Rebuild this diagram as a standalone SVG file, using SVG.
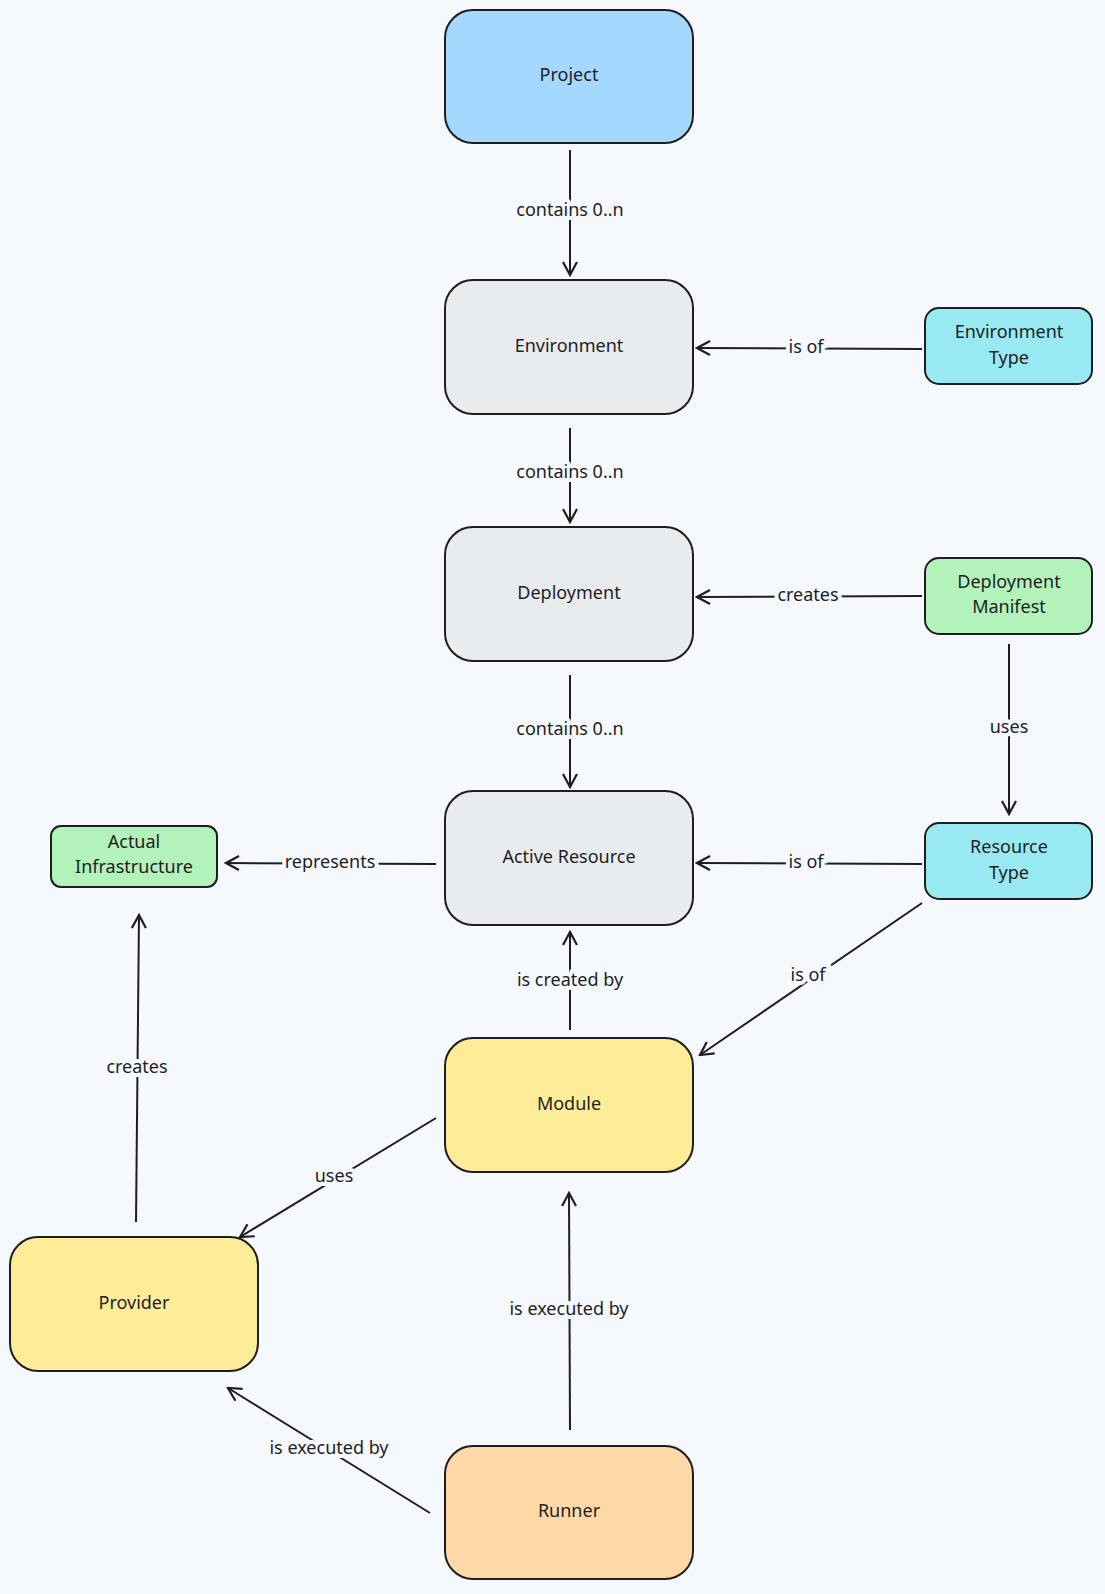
<svg xmlns="http://www.w3.org/2000/svg" width="1105" height="1594" viewBox="0 0 1105 1594">
<defs>
<marker id="a" markerWidth="16" markerHeight="16" refX="14" refY="8" orient="auto" markerUnits="userSpaceOnUse"><path d="M1,1 L14,8 L1,15" fill="none" stroke="#1e1e1e" stroke-width="2.2"/></marker>
</defs>
<style>
.n{stroke:#1e1e1e;stroke-width:2}
.t{font-family:"Comic Sans MS","Noto Sans",sans-serif;font-size:18px;fill:#1e1e1e;text-anchor:middle;dominant-baseline:middle}
.e line{stroke:#1e1e1e;stroke-width:2;marker-end:url(#a)}
.l{font-family:"Noto Sans",sans-serif;font-size:18px;fill:#1e1e1e;text-anchor:middle;dominant-baseline:middle;stroke:#f5f9fd;stroke-width:8;paint-order:stroke}
</style>
<rect width="1105" height="1594" fill="#f5f9fd"/>
<g class="e">
<line x1="570" y1="150" x2="570" y2="275"/>
<line x1="570" y1="428" x2="570" y2="522"/>
<line x1="570" y1="675" x2="570" y2="787"/>
<line x1="922" y1="349" x2="697" y2="348"/>
<line x1="922" y1="596" x2="697" y2="597"/>
<line x1="1009" y1="644" x2="1009" y2="814"/>
<line x1="922" y1="864" x2="697" y2="863"/>
<line x1="436" y1="864" x2="226" y2="863"/>
<line x1="570" y1="1030" x2="570" y2="932"/>
<line x1="922" y1="903" x2="700" y2="1055"/>
<line x1="436" y1="1118" x2="240" y2="1237"/>
<line x1="136" y1="1222" x2="139" y2="915"/>
<line x1="570" y1="1430" x2="569" y2="1193"/>
<line x1="430" y1="1513" x2="228" y2="1388"/>
<text class="l" x="570" y="211">contains 0..n</text>
<text class="l" x="570" y="473">contains 0..n</text>
<text class="l" x="570" y="730">contains 0..n</text>
<text class="l" x="806" y="348">is of</text>
<text class="l" x="808" y="596">creates</text>
<text class="l" x="1009" y="728">uses</text>
<text class="l" x="806" y="863">is of</text>
<text class="l" x="330" y="863">represents</text>
<text class="l" x="570" y="981">is created by</text>
<text class="l" x="808" y="976">is of</text>
<text class="l" x="334" y="1177">uses</text>
<text class="l" x="137" y="1068">creates</text>
<text class="l" x="569" y="1310">is executed by</text>
<text class="l" x="329" y="1449">is executed by</text>
</g>
<g id="project"><rect class="n" x="445" y="10" width="248" height="133" rx="28" fill="#a5d8ff"/><text class="t" x="569" y="76">Project</text></g>
<g id="environment"><rect class="n" x="445" y="280" width="248" height="134" rx="28" fill="#e9ecef"/><text class="t" x="569" y="347">Environment</text></g>
<g id="deployment"><rect class="n" x="445" y="527" width="248" height="134" rx="28" fill="#e9ecef"/><text class="t" x="569" y="594">Deployment</text></g>
<g id="active"><rect class="n" x="445" y="791" width="248" height="134" rx="28" fill="#e9ecef"/><text class="t" x="569" y="858">Active Resource</text></g>
<g id="module"><rect class="n" x="445" y="1038" width="248" height="134" rx="28" fill="#ffec99"/><text class="t" x="569" y="1105">Module</text></g>
<g id="provider"><rect class="n" x="10" y="1237" width="248" height="134" rx="28" fill="#ffec99"/><text class="t" x="134" y="1304">Provider</text></g>
<g id="runner"><rect class="n" x="445" y="1446" width="248" height="133" rx="28" fill="#ffd8a8"/><text class="t" x="569" y="1512">Runner</text></g>
<g id="envtype"><rect class="n" x="925" y="308" width="167" height="76" rx="14" fill="#99e9f2"/><text class="t" x="1009" y="333">Environment</text><text class="t" x="1009" y="359">Type</text></g>
<g id="manifest"><rect class="n" x="925" y="558" width="167" height="76" rx="14" fill="#b2f2bb"/><text class="t" x="1009" y="583">Deployment</text><text class="t" x="1009" y="608">Manifest</text></g>
<g id="restype"><rect class="n" x="925" y="823" width="167" height="76" rx="14" fill="#99e9f2"/><text class="t" x="1009" y="848">Resource</text><text class="t" x="1009" y="874">Type</text></g>
<g id="infra"><rect class="n" x="51" y="826" width="166" height="61" rx="10" fill="#b2f2bb"/><text class="t" x="134" y="843">Actual</text><text class="t" x="134" y="868">Infrastructure</text></g>
</svg>
